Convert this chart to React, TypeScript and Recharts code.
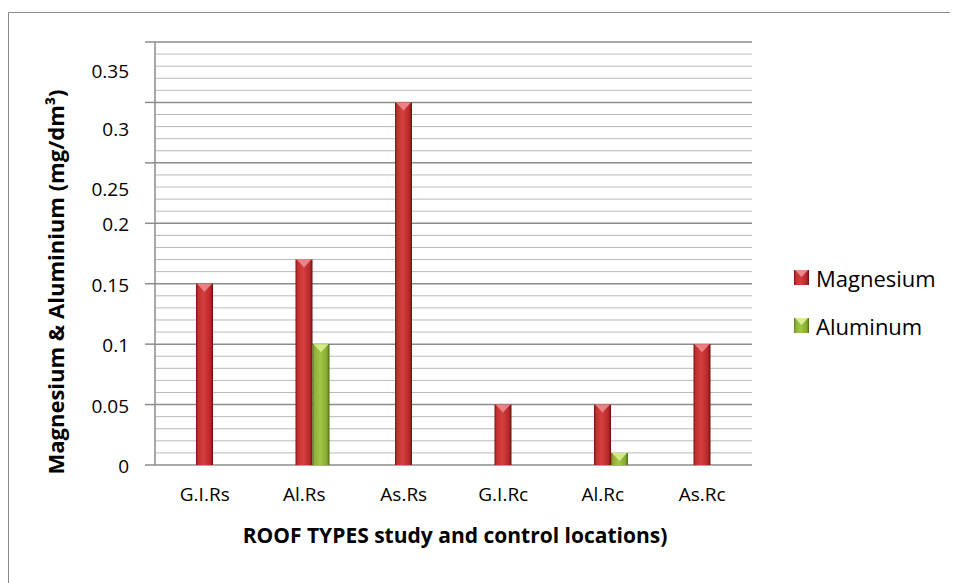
import React from "react";
import { BarChart, Bar, XAxis, YAxis, CartesianGrid } from "recharts";

const categories = ["G.I.Rs", "Al.Rs", "As.Rs", "G.I.Rc", "Al.Rc", "As.Rc"];
const magnesium = [0.15, 0.17, 0.3, 0.05, 0.05, 0.1];
const aluminum = [0, 0.1, 0, 0, 0.01, 0];
const blankSeries = [0, 0, 0, 0, 0, 0];
const majorTicks = [0, 0.05, 0.1, 0.15, 0.2, 0.25, 0.3, 0.35];
const majorTickLabels = ["0", "0.05", "0.1", "0.15", "0.2", "0.25", "0.3", "0.35"];
const minorTicks = [
  0, 0.01, 0.02, 0.03, 0.04, 0.05, 0.06, 0.07, 0.08, 0.09, 0.1, 0.11, 0.12, 0.13, 0.14, 0.15,
  0.16, 0.17, 0.18, 0.19, 0.2, 0.21, 0.22, 0.23, 0.24, 0.25, 0.26, 0.27, 0.28, 0.29, 0.3,
  0.31, 0.32, 0.33, 0.34, 0.35,
];
const seriesNames = ["Magnesium", "Aluminum"];
const xTitle = "ROOF TYPES study and control locations)";
const yTitle = "Magnesium & Aluminium (mg/dm³)";

const data = categories.map((c, i) => ({
  name: c,
  blank: blankSeries[i],
  magnesium: magnesium[i],
  aluminum: aluminum[i],
}));

const W = 950;
const H = 575;
const PLOT_LEFT = 147;
const PLOT_RIGHT = 744;
const PLOT_TOP = 34;
const PLOT_BOTTOM = 457;
const FONT = "'Open Sans', Lato, sans-serif";

// Label offsets (upper labels sit below their gridlines)
const labelShift: Record<string, number> = { "0.25": 25, "0.3": 26, "0.35": 28 };

const isMajor = (v: number) => majorTicks.some((m) => Math.abs(m - v) < 1e-9);

const YTick = (props: any) => {
  const { y, payload } = props;
  const v = payload.value;
  const idx = majorTicks.findIndex((m) => Math.abs(m - v) < 1e-9);
  if (idx < 0) return null;
  const label = majorTickLabels[idx];
  const dy = (labelShift[label] || 0) + 1;
  return (
    <g>
      <line x1={PLOT_LEFT - 10} x2={PLOT_LEFT} y1={y} y2={y} stroke="#8c8c8c" strokeWidth={1.5} />
      <text
        x={121}
        y={y + dy}
        textAnchor="end"
        dominantBaseline="central"
        fontFamily={FONT}
        fontSize={19}
        fill="#000"
      >
        {label}
      </text>
    </g>
  );
};

const XTick = (props: any) => {
  const { x, payload } = props;
  return (
    <text
      x={x}
      y={486}
      textAnchor="middle"
      dominantBaseline="central"
      fontFamily={FONT}
      fontSize={19}
      fill="#000"
    >
      {payload.value}
    </text>
  );
};

const GridLine = (p: any) => {
  const v = minorTicks[p.index];
  const major = v !== undefined && isMajor(v);
  return (
    <line
      key={p.key}
      x1={p.x1}
      x2={p.x2}
      y1={p.y1}
      y2={p.y2}
      stroke={major ? "#8c8c8c" : "#b8b8b8"}
      strokeWidth={major ? 1.5 : 1}
    />
  );
};

const makeShape = (grad: string, tri: string) => (props: any) => {
  const { x, y, width, height } = props;
  if (!height || height <= 0.5) return null;
  const th = Math.min(8, height);
  return (
    <g>
      <rect x={x} y={y} width={width} height={height + 2} fill={`url(#${grad})`} />
      <polygon
        points={`${x + 1},${y} ${x + width - 1},${y} ${x + width / 2},${y + th}`}
        fill={tri}
        opacity={0.9}
      />
    </g>
  );
};

const RedShape = makeShape("gradRed", "#ec8a8e");
const GreenShape = makeShape("gradGreen", "#d8ef8e");

const LegendMarker = ({ x, y, grad, tri }: any) => (
  <g>
    <rect x={x} y={y} width={15} height={15} fill={`url(#${grad})`} />
    <polygon points={`${x + 1},${y} ${x + 14},${y} ${x + 7.5},${y + 7}`} fill={tri} />
  </g>
);

export default function App() {
  return (
    <div style={{ width: W, height: H }}>
      <BarChart
        width={W}
        height={H}
        data={data}
        margin={{ top: PLOT_TOP, right: W - PLOT_RIGHT, bottom: H - PLOT_BOTTOM - 50, left: 0 }}
        barGap={0}
        barSize={17}
      >
        <defs>
          <linearGradient id="gradRed" x1="0" y1="0" x2="1" y2="0">
            <stop offset="0%" stopColor="#7a1212" />
            <stop offset="12%" stopColor="#c12f2f" />
            <stop offset="45%" stopColor="#d63f3f" />
            <stop offset="85%" stopColor="#b32828" />
            <stop offset="100%" stopColor="#6a0f0f" />
          </linearGradient>
          <linearGradient id="gradGreen" x1="0" y1="0" x2="1" y2="0">
            <stop offset="0%" stopColor="#56761a" />
            <stop offset="12%" stopColor="#8db238" />
            <stop offset="45%" stopColor="#a2c64c" />
            <stop offset="85%" stopColor="#86aa30" />
            <stop offset="100%" stopColor="#4b6712" />
          </linearGradient>
        </defs>
        <path d={`M 0.5 ${H} V 4.5 H ${W}`} fill="none" stroke="#8c8c8c" strokeWidth={1} />
        <CartesianGrid horizontal={GridLine} vertical={false} />
        <XAxis
          dataKey="name"
          axisLine={false}
          tickLine={false}
          height={50}
          tick={<XTick />}
          interval={0}
        />
        <YAxis
          type="number"
          domain={[0, 0.35]}
          ticks={minorTicks}
          interval={0}
          width={PLOT_LEFT}
          axisLine={{ stroke: "#8c8c8c", strokeWidth: 1.5 }}
          tickLine={false}
          tick={<YTick />}
          allowDataOverflow
        />
        <Bar dataKey="blank" fill="transparent" isAnimationActive={false} legendType="none" />
        <Bar dataKey="magnesium" name={seriesNames[0]} shape={RedShape} isAnimationActive={false} />
        <Bar dataKey="aluminum" name={seriesNames[1]} shape={GreenShape} isAnimationActive={false} />
        <text
          x={447}
          y={527}
          textAnchor="middle"
          dominantBaseline="central"
          fontFamily={FONT}
          fontWeight="bold"
          fontSize={21}
          fill="#000"
        >
          {xTitle}
        </text>
        <text
          x={47}
          y={274}
          transform="rotate(-90 47 274)"
          textAnchor="middle"
          dominantBaseline="central"
          fontFamily={FONT}
          fontWeight="bold"
          fontSize={22}
          fill="#000"
        >
          {yTitle}
        </text>
        <LegendMarker x={786} y={262} grad="gradRed" tri="#ec8a8e" />
        <text x={808} y={270} dominantBaseline="central" fontFamily={FONT} fontSize={22} fill="#000">
          {seriesNames[0]}
        </text>
        <LegendMarker x={786} y={310} grad="gradGreen" tri="#d8ef8e" />
        <text x={808} y={318} dominantBaseline="central" fontFamily={FONT} fontSize={22} fill="#000">
          {seriesNames[1]}
        </text>
      </BarChart>
    </div>
  );
}
